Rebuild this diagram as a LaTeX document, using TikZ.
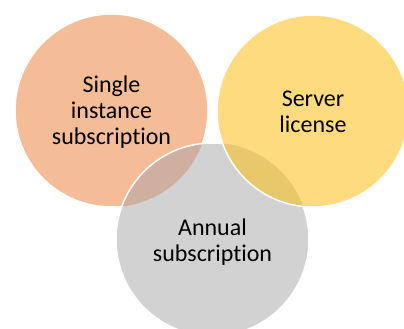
\documentclass[tikz,border=0pt]{standalone}
\usepackage{fontspec}
\setmainfont{Carlito}[Ligatures={NoCommon},RawFeature={-liga;-clig;-dlig}]
\definecolor{corange}{RGB}{244,189,152}
\definecolor{cyellow}{RGB}{255,219,128}
\definecolor{cgray}{RGB}{210,210,210}
\definecolor{cog}{RGB}{206,175,160}
\definecolor{cyg}{RGB}{233,200,106}
\begin{document}
\begin{tikzpicture}[x=1pt,y=-1pt,
  lbl/.style={font=\fontsize{24}{26}\selectfont, align=center, text=black, inner sep=0pt},
  ring/.style={draw=white, line width=1.5pt}]
\useasboundingbox (0,0) rectangle (404,329);
\clip (0,0) rectangle (404,329);
\coordinate (co) at (111.5,110.5);
\coordinate (cy) at (313,111);
\coordinate (cg) at (212.5,239.5);
% base fills
\fill[corange] (co) circle (96.5pt);
\fill[cyellow] (cy) circle (96pt);
\fill[cgray] (cg) circle (96.5pt);
% overlaps
\begin{scope}
  \clip (co) circle (96.5pt);
  \fill[cog] (cg) circle (96.5pt);
\end{scope}
\begin{scope}
  \clip (cy) circle (96pt);
  \fill[cyg] (cg) circle (96.5pt);
\end{scope}
% outlines
\begin{scope}[even odd rule]
  \clip (-10,-10) rectangle (420,340) (cy) circle (96pt);
  \draw[ring] (cg) circle (96.5pt);
\end{scope}
\draw[ring] (cy) circle (96pt);
\begin{scope}[even odd rule]
  \clip (-10,-10) rectangle (420,340) (cg) circle (96.5pt);
  \draw[ring] (co) circle (96.5pt);
\end{scope}
% labels
\node[lbl] (single) at (111.5,112) {Single\\instance\\subscription};
\node[lbl] (server) at (313,112) {Server\\license};
\node[lbl] (annual) at (212.5,242) {Annual\\subscription};
\end{tikzpicture}
\end{document}
